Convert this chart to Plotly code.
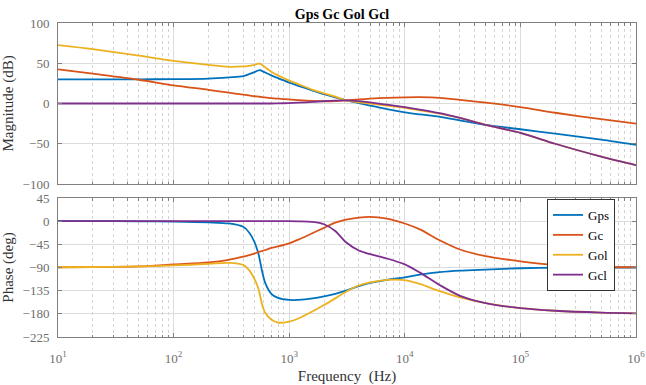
import plotly.graph_objects as go

# ---------------- data ----------------
freq = [10, 20, 50, 100, 200, 300, 400, 450, 500, 540, 560, 580, 620, 700, 800,
        1000, 1200, 1600, 2000, 2500, 3100, 4000, 5000, 7000, 10000, 13500,
        20000, 30000, 50000, 100000, 200000, 500000, 1000000]

series_names = ["Gps", "Gc", "Gol", "Gcl"]
series_colors = ["#0072BD", "#D95319", "#EDB120", "#7E2F8E"]

mag_gps = [30, 30, 30, 30.3, 31, 32.5, 34, 36.5, 39, 41, 41.5, 40.5, 38.5, 35, 31.5,
           26, 22, 16, 11.5, 7.5, 4, 0.5, -2.5, -7, -11, -13.5,
           -16.5, -21, -26.5, -32, -37.5, -45, -51.5]
mag_gc = [42.5, 37, 29.5, 22.5, 17, 13.5, 11, 10, 9, 8.6, 8.3, 8, 7.5, 6.8, 6,
          5, 4.2, 3.2, 2.8, 3, 3.8, 5, 6, 7, 7.6, 7.8,
          7, 4.5, 1, -4.5, -11.5, -19.5, -25]
mag_gol = [72.5, 67.5, 59.5, 53, 48, 45.5, 46, 46.8, 48, 49.5, 49.5, 48, 45, 39.5, 35,
           28.5, 24, 17, 12.5, 8.5, 4, 1.5, 0, -2.5, -5.5, -8.5,
           -12.5, -18, -26.5, -36.5, -50, -66, -76.5]
mag_gcl = [0, 0, 0, 0, 0, 0, 0, 0, 0, 0, 0, 0, 0, 0, 0.2,
           0.5, 1, 2, 3, 3.6, 3.8, 3, 1.5, -1.5, -4.5, -7.5,
           -12, -18, -26.5, -36.5, -50, -66, -76.5]

ph_gps = [0, 0, -0.3, -1, -2.5, -4.5, -11, -22, -40, -62, -78, -95, -120, -141, -149,
          -153, -153, -150, -146, -141, -135, -126, -120, -114, -109, -104,
          -99, -96, -94, -91.5, -90.5, -90, -90]
ph_gc = [-89.5, -89, -88, -84, -80, -75, -69, -66, -63, -60, -59, -58, -56, -52, -49,
         -43, -36, -23, -13, -3, 3, 7, 8.5, 5, -4.5, -16,
         -37, -55, -68, -78, -85, -88.5, -89.5]
ph_gol = [-89.5, -89, -88, -86, -83, -81, -85, -95, -112, -130, -145, -160, -178, -191, -197,
          -195, -189, -175, -163, -150, -137, -125, -119, -114, -114.5, -122,
          -136, -148, -159, -169, -174, -177.5, -179]
ph_gcl = [0, 0, 0, 0, 0, 0, 0, 0, 0, 0, 0, 0, 0, 0, 0,
          0, -0.3, -1.5, -6, -19, -41, -57, -64, -72.5, -84, -100,
          -124, -145, -159, -169, -174, -177.5, -179]

mag_data = [mag_gps, mag_gc, mag_gol, mag_gcl]
ph_data = [ph_gps, ph_gc, ph_gol, ph_gcl]

decade_vals = [10, 100, 1000, 10000, 100000, 1000000]
decade_text = ["10<sup>1</sup>", "10<sup>2</sup>", "10<sup>3</sup>",
               "10<sup>4</sup>", "10<sup>5</sup>", "10<sup>6</sup>"]
minor_vals = [m * d for d in decade_vals[:-1] for m in range(2, 10)]

mag_ticks = [-100, -50, 0, 50, 100]
ph_ticks = [-225, -180, -135, -90, -45, 0, 45]

# ---------------- figure ----------------
SERIF = "Liberation Serif"
AX = "#808080"
GRID = "#dcdcdc"
TICKC = "#6e6e6e"

fig = go.Figure()
for name, col, md in zip(series_names, series_colors, mag_data):
    fig.add_trace(go.Scatter(x=freq, y=md, mode="lines", name=name,
                             line=dict(color=col, width=1.8, shape="spline", smoothing=0.8),
                             xaxis="x", yaxis="y", showlegend=False))
for name, col, pd_ in zip(series_names, series_colors, ph_data):
    fig.add_trace(go.Scatter(x=freq, y=pd_, mode="lines", name=name,
                             line=dict(color=col, width=1.8, shape="spline", smoothing=0.8),
                             xaxis="x2", yaxis="y2", showlegend=True))

xcommon = dict(type="log", range=[1, 6], showline=True, linecolor=AX, linewidth=1,
               mirror="ticks", ticks="inside", ticklen=4, tickcolor=AX,
               tickmode="array", tickvals=decade_vals, automargin=False,
               showgrid=True, gridcolor=GRID, gridwidth=1, zeroline=False,
               minor=dict(tickmode="array", tickvals=minor_vals, ticks="inside",
                          ticklen=2.5, tickcolor=AX, showgrid=True,
                          gridcolor="#d4d4d4", griddash="dot", gridwidth=1))
ycommon = dict(showline=True, linecolor=AX, linewidth=1, mirror="ticks",
               ticks="inside", ticklen=4, tickcolor=AX, showgrid=True,
               gridcolor=GRID, gridwidth=1, zeroline=False, automargin=False,
               tickfont=dict(family=SERIF, size=13, color=TICKC),
               ticklabelstandoff=5)

H = 385
top_px, bot_px = 23, 337
span = bot_px - top_px
left_px, right_px = 58, 636

fig.update_layout(
    width=646, height=385,
    margin=dict(l=left_px, r=646 - right_px, t=top_px, b=H - bot_px, autoexpand=False),
    paper_bgcolor="white", plot_bgcolor="white",
    font=dict(family=SERIF, color="#333333"),
    title=dict(text="<b>Gps Gc Gol Gcl</b>", x=342 / 646, xanchor="center",
               y=1 - 14 / H, yanchor="middle", yref="container",
               font=dict(family=SERIF, size=14, color="#000000")),
    xaxis=dict(xcommon, anchor="y", showticklabels=False, matches="x2"),
    xaxis2=dict(xcommon, anchor="y2", ticktext=decade_text,
                tickfont=dict(family=SERIF, size=13, color=TICKC),
                ticklabelstandoff=9,
                title=dict(text="Frequency  (Hz)", standoff=8,
                           font=dict(family=SERIF, size=15, color="#333333"))),
    yaxis=dict(ycommon, range=[-100, 100], tickvals=mag_ticks,
               domain=[(bot_px - 184) / span, 1],
               title=dict(text="Magnitude (dB)", standoff=7,
                          font=dict(family=SERIF, size=15, color="#333333"))),
    yaxis2=dict(ycommon, range=[-225, 45], tickvals=ph_ticks,
                domain=[0, (bot_px - 198) / span],
                title=dict(text="Phase (deg)", standoff=7,
                           font=dict(family=SERIF, size=15, color="#333333"))),
    legend=dict(x=(547 - left_px) / (right_px - left_px), y=(bot_px - 199) / span,
                xanchor="left", yanchor="top",
                bgcolor="white", bordercolor="#333333", borderwidth=1,
                font=dict(family=SERIF, size=13, color="#000000"),
                tracegroupgap=0, itemwidth=30),
    showlegend=True,
)

fig.write_html("out.html")
